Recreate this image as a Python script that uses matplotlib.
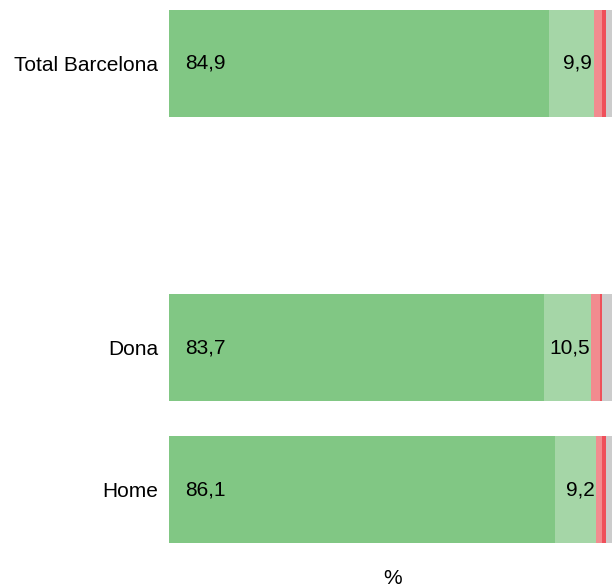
import matplotlib.pyplot as plt
import numpy as np

plt.rcParams['font.family'] = ['Liberation Sans', 'DejaVu Sans']

categories = ['Total Barcelona', '', 'Dona', 'Home']
green = [84.9, 0, 83.7, 86.1]
light_green = [9.9, 0, 10.5, 9.2]
pink = [1.8, 0, 2.0, 1.3]
red = [0.9, 0, 0.5, 0.9]
gray = [2.5, 0, 3.3, 2.5]

series = [green, light_green, pink, red, gray]
colors = ['#81c784', '#a5d6a7', '#f28b8f', '#ef4f5a', '#cccccc']

fig = plt.figure(figsize=(6.12, 5.88), dpi=100)
ax = fig.add_axes([169 / 612, 45 / 588, 448 / 612, 533 / 588])

y = np.arange(len(categories))
left = np.zeros(len(categories))
for vals, c in zip(series, colors):
    ax.barh(y, vals, left=left, height=0.75, color=c, linewidth=0)
    left += np.array(vals)

fmt = lambda v: f"{v:.1f}".replace('.', ',')
for i in range(len(categories)):
    if green[i] == 0:
        continue
    ax.annotate(fmt(green[i]), (0, y[i]), xytext=(11.5, 0), textcoords='offset points',
                ha='left', va='center', fontsize=15)
    ax.annotate(fmt(light_green[i]), (green[i] + light_green[i], y[i]), xytext=(-1, 0),
                textcoords='offset points', ha='right', va='center', fontsize=15)

ax.set_xlim(0, 100)
ax.set_ylim(3.375, -0.375)
ax.set_yticks([0, 2, 3])
ax.set_yticklabels(['Total Barcelona', 'Dona', 'Home'], fontsize=15)
ax.set_xticks([])
ax.tick_params(axis='y', length=0, pad=8)
for s in ax.spines.values():
    s.set_visible(False)
ax.set_xlabel('%', fontsize=15, labelpad=19)

fig.savefig('out.png', dpi=100)
